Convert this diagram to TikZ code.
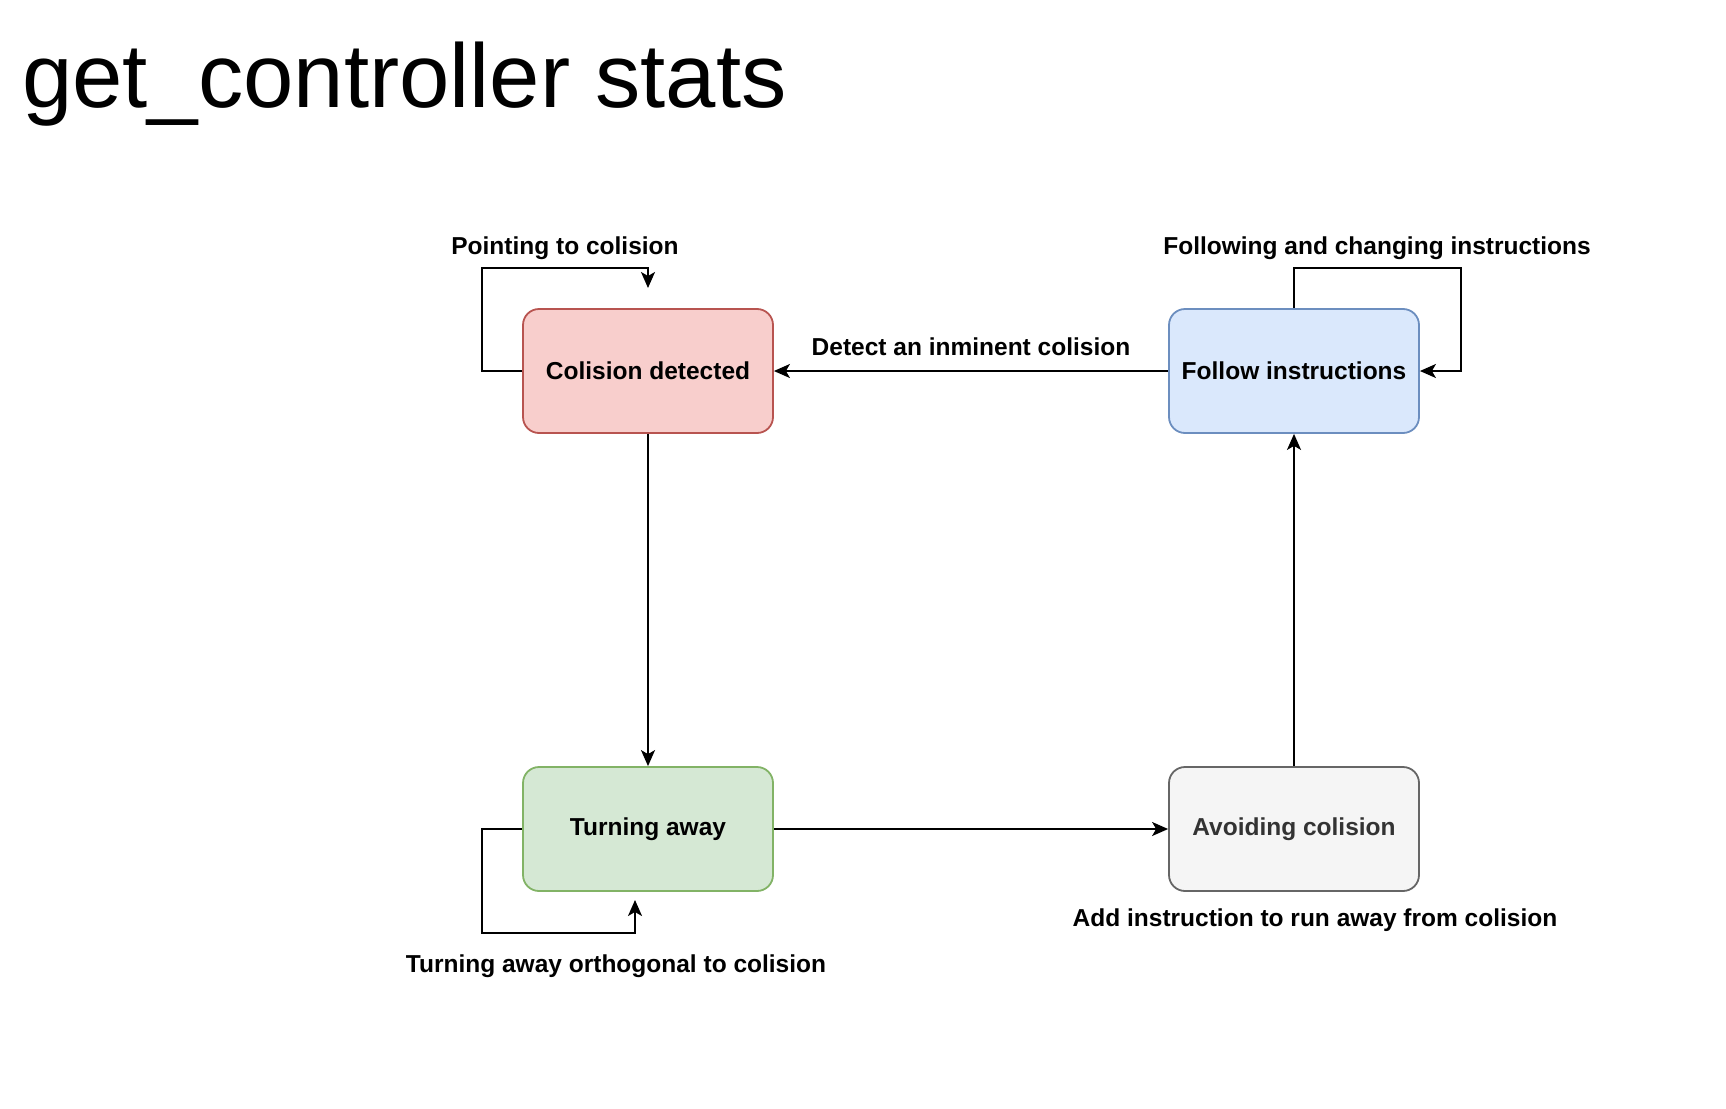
\documentclass[tikz,border=0pt]{standalone}
\usepackage{fontspec}
\setmainfont{Liberation Sans}
\usetikzlibrary{arrows.meta}
\definecolor{redfill}{HTML}{F8CECC}\definecolor{redline}{HTML}{B85450}
\definecolor{bluefill}{HTML}{DAE8FC}\definecolor{blueline}{HTML}{6C8EBF}
\definecolor{greenfill}{HTML}{D5E8D4}\definecolor{greenline}{HTML}{82B366}
\definecolor{greyfill}{HTML}{F5F5F5}\definecolor{greyline}{HTML}{666666}
\definecolor{greytext}{HTML}{333333}
\begin{document}
\begin{tikzpicture}[x=1pt,y=-1pt,
  state/.style={draw,rounded corners=16pt,line width=1.8pt,minimum width=250pt,minimum height=124pt,
    font=\fontsize{24.5}{28}\selectfont\bfseries,inner sep=0pt},
  lbl/.style={font=\fontsize{24.5}{28}\selectfont\bfseries,inner sep=0pt},
  conn/.style={line width=1.8pt,-{Stealth[length=16pt,width=14pt,inset=4pt]}}]
\useasboundingbox (0,0) rectangle (1726,1108);
\node[anchor=base west,font=\fontsize{90.5}{100}\selectfont,inner sep=0pt] (title) at (22,107) {get\_controller stats};

\node[state,fill=redfill,draw=redline] (cd) at (648,371) {Colision detected};
\node[state,fill=bluefill,draw=blueline] (fi) at (1294,371) {Follow instructions};
\node[state,fill=greenfill,draw=greenline] (ta) at (648,829) {Turning away};
\node[state,fill=greyfill,draw=greyline,text=greytext] (ac) at (1294,829) {Avoiding colision};

% self loop colision detected
\coordinate (cdtip) at (648,288);
\draw[conn] (cd.west) -| (482,268) -| (cdtip);
\node[lbl] (l1) at (565,248) {Pointing to colision};

% self loop follow instructions
\draw[conn] (fi.north) |- (1461,268) |- (fi.east);
\node[lbl] (l2) at (1377,248) {Following and changing instructions};

% detect
\draw[conn] (fi.west) -- (cd.east) node[lbl,pos=0.5,yshift=24pt] (l3) {Detect an inminent colision};

% down
\draw[conn] (cd.south) -- (ta.north);

% self loop turning away
\coordinate (tatip) at (635,900);
\draw[conn] (ta.west) -| (482,933) -| (tatip);
\node[lbl] (l4) at (616,966) {Turning away orthogonal to colision};

% turning -> avoiding
\draw[conn] (ta.east) -- (ac.west);
\node[lbl] (l5) at (1315,920) {Add instruction to run away from colision};

% avoiding -> follow
\draw[conn] (ac.north) -- (fi.south);
\end{tikzpicture}
\end{document}
